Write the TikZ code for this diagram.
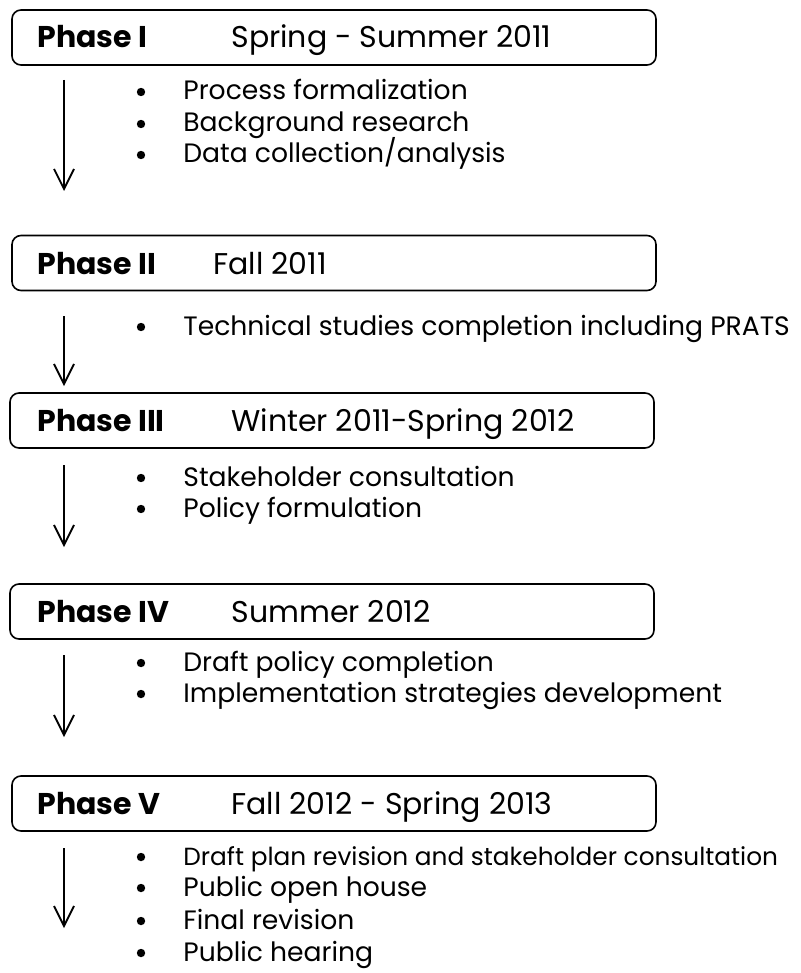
\documentclass[tikz,border=0pt]{standalone}
\usepackage{fontspec}
\setmainfont{Poppins}
\usetikzlibrary{arrows.meta}
\begin{document}
\begin{tikzpicture}[x=0.5pt,y=-0.5pt,
    phasebox/.style={draw, line width=0.8pt, rounded corners=4.5pt, minimum width=322pt, minimum height=27.5pt, inner sep=0pt},
    phasename/.style={anchor=base west, inner sep=0pt, font=\fontsize{15}{18}\selectfont\bfseries},
    phasedate/.style={anchor=base west, inner sep=0pt, font=\fontsize{15}{18}\selectfont},
    item/.style={anchor=base west, inner sep=0pt, font=\fontsize{13.3}{16}\selectfont},
    dot/.style={circle, fill, inner sep=0pt, minimum size=4.2pt},
    flow/.style={-{Straight Barb[length=10pt, width=10pt]}, line width=0.9pt}]
    \useasboundingbox (0,0) rectangle (801,973);

    \node[phasebox] (p1) at (334,37.5) {};
    \node[phasename] (p1name) at (37,48) {Phase I};
    \node[phasedate] (p1date) at (231,48) {Spring - Summer 2011};
    \node[dot] (d11) at (141,92) {};
    \node[item] (i11) at (183,100) {Process formalization};
    \node[dot] (d12) at (141,124) {};
    \node[item] (i12) at (183,132) {Background research};
    \node[dot] (d13) at (141,155) {};
    \node[item] (i13) at (183,163) {Data collection/analysis};
    \coordinate (a1s) at (64,80);
    \coordinate (a1e) at (64,191);
    \draw[flow] (a1s) -- (a1e);

    \node[phasebox] (p2) at (334,263) {};
    \node[phasename] (p2name) at (37,274) {Phase II};
    \node[phasedate] (p2date) at (213,274) {Fall 2011};
    \node[dot] (d21) at (141,327) {};
    \node[item] (i21) at (183,335) {Technical studies completion including PRATS};
    \coordinate (a2s) at (64,316);
    \coordinate (a2e) at (64,386);
    \draw[flow] (a2s) -- (a2e);

    \node[phasebox] (p3) at (332,420.5) {};
    \node[phasename] (p3name) at (37,431) {Phase III};
    \node[phasedate] (p3date) at (231,431) {Winter 2011-Spring 2012};
    \node[dot] (d31) at (141,478) {};
    \node[item] (i31) at (183,486) {Stakeholder consultation};
    \node[dot] (d32) at (141,509) {};
    \node[item] (i32) at (183,517) {Policy formulation};
    \coordinate (a3s) at (64,465);
    \coordinate (a3e) at (64,547);
    \draw[flow] (a3s) -- (a3e);

    \node[phasebox] (p4) at (332,611.5) {};
    \node[phasename] (p4name) at (37,622) {Phase IV};
    \node[phasedate] (p4date) at (231,622) {Summer 2012};
    \node[dot] (d41) at (141,663) {};
    \node[item] (i41) at (183,671) {Draft policy completion};
    \node[dot] (d42) at (141,694) {};
    \node[item] (i42) at (183,702) {Implementation strategies development};
    \coordinate (a4s) at (64,655);
    \coordinate (a4e) at (64,737);
    \draw[flow] (a4s) -- (a4e);

    \node[phasebox] (p5) at (334,803.5) {};
    \node[phasename] (p5name) at (37,814) {Phase V};
    \node[phasedate] (p5date) at (231,814) {Fall 2012 - Spring 2013};
    \node[dot] (d51) at (141,857) {};
    \node[item, font=\fontsize{12.4}{15}\selectfont] (i51) at (183,865) {Draft plan revision and stakeholder consultation};
    \node[dot] (d52) at (141,888) {};
    \node[item] (i52) at (183,896) {Public open house};
    \node[dot] (d53) at (141,921) {};
    \node[item] (i53) at (183,929) {Final revision};
    \node[dot] (d54) at (141,953) {};
    \node[item] (i54) at (183,961) {Public hearing};
    \coordinate (a5s) at (64,848);
    \coordinate (a5e) at (64,928);
    \draw[flow] (a5s) -- (a5e);
\end{tikzpicture}
\end{document}
